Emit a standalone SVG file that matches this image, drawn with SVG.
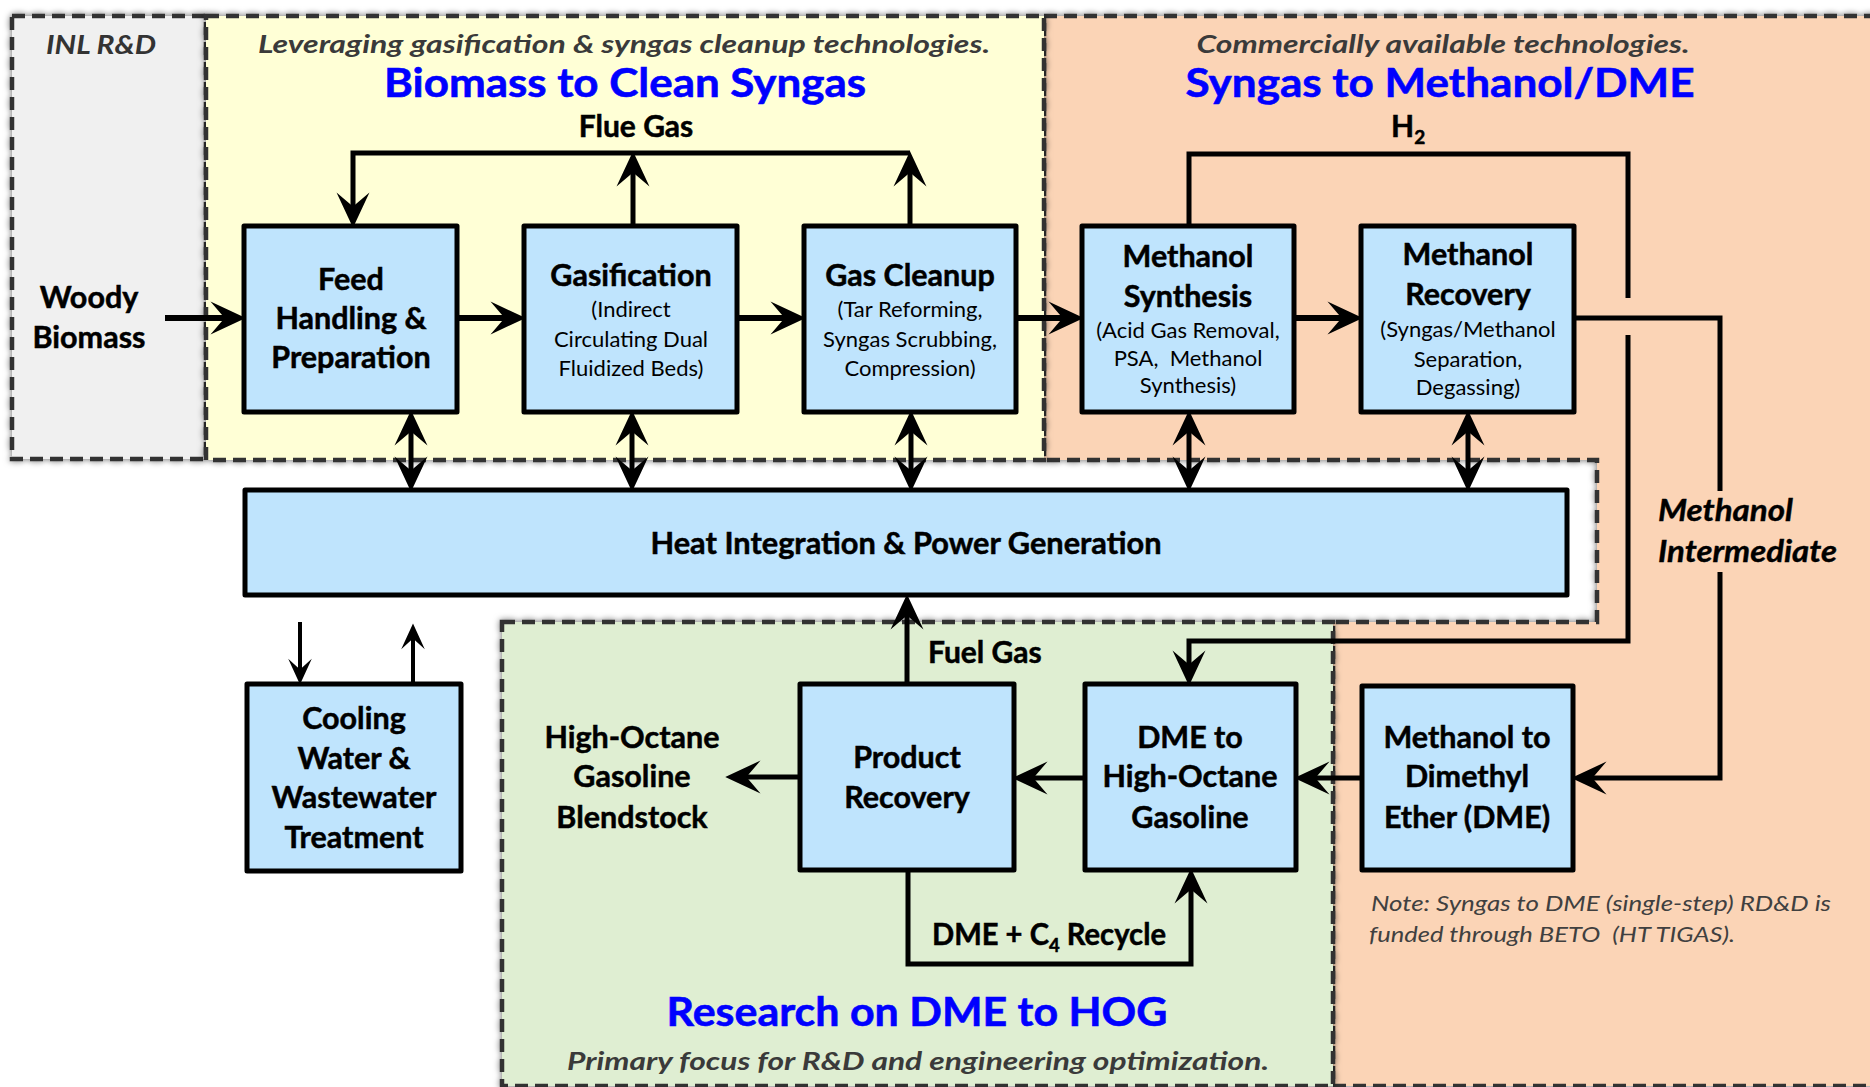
<svg xmlns="http://www.w3.org/2000/svg" width="1870" height="1087" viewBox="0 0 1870 1087">
<defs>
<filter id="sh" x="-5%" y="-5%" width="110%" height="110%">
<feDropShadow dx="0" dy="0" stdDeviation="3" flood-color="#000" flood-opacity="0.55"/>
</filter>
<marker id="ah" markerUnits="userSpaceOnUse" markerWidth="40" markerHeight="40" viewBox="-22 -16 34 32" refX="0" refY="0" orient="auto-start-reverse" overflow="visible">
<path d="M10,0 L-20,-14 L-8,0 L-20,14 Z" fill="#000"/>
</marker>
<marker id="ahs" markerUnits="userSpaceOnUse" markerWidth="30" markerHeight="30" viewBox="-18 -12 28 24" refX="0" refY="0" orient="auto-start-reverse" overflow="visible">
<path d="M8,0 L-16,-11 L-6,0 L-16,11 Z" fill="#000"/>
</marker>
<style>
.reg{stroke:#333;stroke-width:4.5;stroke-dasharray:13 7;filter:url(#sh)}
.box{fill:#BFE4FD;stroke:#000;stroke-width:5;stroke-linejoin:round}
.c{fill:none;stroke:#000;stroke-width:5;stroke-linejoin:miter}
.cm{fill:none;stroke:#000;stroke-width:6}
.cs{fill:none;stroke:#000;stroke-width:4}
.a{marker-end:url(#ah)}
.bi{marker-start:url(#ah);marker-end:url(#ah)}
.as{marker-end:url(#ahs)}
text{font-family:Lato,"Liberation Sans",sans-serif}
.t{font-size:41px;font-weight:bold;fill:#0000FF;text-anchor:middle;stroke:#0000FF;stroke-width:0.6}
.sub{font-size:25px;font-weight:bold;font-style:italic;fill:#3a3a3a;text-anchor:middle}
.n{font-size:30.5px;font-weight:bold;fill:#000;text-anchor:middle;stroke:#000;stroke-width:0.5}
.s{font-size:22px;fill:#000;text-anchor:middle}
.l{font-size:30px;font-weight:bold;fill:#000;stroke:#000;stroke-width:0.5}
.li{font-size:30px;font-weight:bold;font-style:italic;fill:#000;stroke:#000;stroke-width:0.4}
.note{font-size:22px;font-style:italic;fill:#404040}
</style>
</defs>
<rect width="1870" height="1087" fill="#fff"/>
<g id="regions">
<path class="reg" d="M1044,16 L1880,16 L1880,1086 L1333,1086 L1333,622 L1597,622 L1597,460 L1044,460 Z" fill="#FBD4B6"/>
<rect class="reg" x="502" y="622" width="831" height="464" fill="#DFEED2"/>
<rect class="reg" x="12" y="16" width="194" height="443" fill="#F0F0F0"/>
<rect class="reg" x="206" y="16" width="838" height="444" fill="#FFFFD6"/>
</g>
<g id="headings">
<text x="46" y="54" font-size="26" font-weight="bold" font-style="italic" fill="#333" textLength="110" lengthAdjust="spacingAndGlyphs">INL R&amp;D</text>
<text class="sub" x="624" y="53" textLength="732" lengthAdjust="spacingAndGlyphs">Leveraging gasification &amp; syngas cleanup technologies.</text>
<text class="t" x="625" y="97" textLength="482" lengthAdjust="spacingAndGlyphs">Biomass to Clean Syngas</text>
<text class="sub" x="1443" y="53" textLength="493" lengthAdjust="spacingAndGlyphs">Commercially available technologies.</text>
<text class="t" x="1440" y="97" textLength="509" lengthAdjust="spacingAndGlyphs">Syngas to Methanol/DME</text>
<text class="t" x="917" y="1026" textLength="501" lengthAdjust="spacingAndGlyphs">Research on DME to HOG</text>
<text class="sub" x="918" y="1070" textLength="702" lengthAdjust="spacingAndGlyphs">Primary focus for R&amp;D and engineering optimization.</text>
<text class="note" x="1371" y="911" textLength="460" lengthAdjust="spacingAndGlyphs">Note: Syngas to DME (single-step) RD&amp;D is</text>
<text class="note" x="1369" y="942" textLength="366" lengthAdjust="spacingAndGlyphs" xml:space="preserve">funded through BETO  (HT TIGAS).</text>
</g>
<g id="connectors">
<line class="cm a" x1="165" y1="318" x2="234" y2="318"/>
<line class="cm a" x1="457" y1="318" x2="514" y2="318"/>
<line class="cm a" x1="737" y1="318" x2="794" y2="318"/>
<line class="cm a" x1="1016" y1="318" x2="1072" y2="318"/>
<line class="cm a" x1="1294" y1="318" x2="1351" y2="318"/>
<path class="c a" d="M910,153 L353,153 L353,216"/>
<line class="c a" x1="633" y1="226" x2="633" y2="163"/>
<line class="c a" x1="910" y1="226" x2="910" y2="163"/>
<path class="c" d="M1189,226 L1189,154 L1628,154 L1628,298"/>
<path class="c a" d="M1628,335 L1628,641 L1189,641 L1189,674"/>
<path class="c" d="M1574,318 L1720,318 L1720,491"/>
<path class="c a" d="M1720,572 L1720,778 L1583,778"/>
<line class="c a" x1="1362" y1="778" x2="1306" y2="778"/>
<line class="c a" x1="1085" y1="778" x2="1024" y2="778"/>
<line class="c a" x1="800" y1="777" x2="737" y2="777"/>
<line class="c a" x1="907" y1="684" x2="907" y2="606"/>
<path class="c a" d="M908,870 L908,964 L1191,964 L1191,880"/>
<line class="c bi" x1="411" y1="422" x2="411" y2="480"/>
<line class="c bi" x1="632" y1="422" x2="632" y2="480"/>
<line class="c bi" x1="911" y1="422" x2="911" y2="480"/>
<line class="c bi" x1="1189" y1="422" x2="1189" y2="480"/>
<line class="c bi" x1="1468" y1="422" x2="1468" y2="480"/>
<line class="cs as" x1="300" y1="622" x2="300" y2="676"/>
<line class="cs as" x1="413" y1="684" x2="413" y2="632"/>
</g>
<g id="flow-labels">
<text class="l" x="636" y="137" text-anchor="middle">Flue Gas</text>
<text class="l" x="1391" y="137">H<tspan font-size="19" dy="7">2</tspan></text>
<text class="li" x="1658" y="521" textLength="135" lengthAdjust="spacingAndGlyphs">Methanol</text>
<text class="li" x="1658" y="562" textLength="179" lengthAdjust="spacingAndGlyphs">Intermediate</text>
<text class="l" x="928" y="663">Fuel Gas</text>
<text class="l" x="932" y="945" textLength="234" lengthAdjust="spacingAndGlyphs">DME + C<tspan font-size="19" dy="7">4</tspan><tspan dy="-7"> Recycle</tspan></text>
<text class="n" x="89" y="308">Woody</text>
<text class="n" x="89" y="348">Biomass</text>
<text class="n" x="632" y="748">High-Octane</text>
<text class="n" x="632" y="787">Gasoline</text>
<text class="n" x="632" y="828">Blendstock</text>
</g>
<g id="feed">
<rect class="box" x="244" y="226" width="213" height="186"/>
<text class="n" x="351" y="290">Feed</text>
<text class="n" x="351" y="329">Handling &amp;</text>
<text class="n" x="351" y="368">Preparation</text>
</g>
<g id="gasification">
<rect class="box" x="524" y="226" width="213" height="186"/>
<text class="n" x="631" y="286">Gasification</text>
<text class="s" x="631" y="317">(Indirect</text>
<text class="s" x="631" y="347">Circulating Dual</text>
<text class="s" x="631" y="376">Fluidized Beds)</text>
</g>
<g id="gas-cleanup">
<rect class="box" x="804" y="226" width="212" height="186"/>
<text class="n" x="910" y="286">Gas Cleanup</text>
<text class="s" x="910" y="317">(Tar Reforming,</text>
<text class="s" x="910" y="347">Syngas Scrubbing,</text>
<text class="s" x="910" y="376">Compression)</text>
</g>
<g id="methanol-synthesis">
<rect class="box" x="1082" y="226" width="212" height="186"/>
<text class="n" x="1188" y="267">Methanol</text>
<text class="n" x="1188" y="307">Synthesis</text>
<text class="s" x="1188" y="338">(Acid Gas Removal,</text>
<text class="s" x="1188" y="366" xml:space="preserve">PSA,  Methanol</text>
<text class="s" x="1188" y="393">Synthesis)</text>
</g>
<g id="methanol-recovery">
<rect class="box" x="1361" y="226" width="213" height="186"/>
<text class="n" x="1468" y="265">Methanol</text>
<text class="n" x="1468" y="305">Recovery</text>
<text class="s" x="1468" y="337">(Syngas/Methanol</text>
<text class="s" x="1468" y="367">Separation,</text>
<text class="s" x="1468" y="395">Degassing)</text>
</g>
<g id="heat-integration">
<rect class="box" x="245" y="490" width="1322" height="105"/>
<text class="n" x="906" y="554" textLength="511" lengthAdjust="spacingAndGlyphs">Heat Integration &amp; Power Generation</text>
</g>
<g id="cooling">
<rect class="box" x="247" y="684" width="214" height="187"/>
<text class="n" x="354" y="729">Cooling</text>
<text class="n" x="354" y="769">Water &amp;</text>
<text class="n" x="354" y="808">Wastewater</text>
<text class="n" x="354" y="848">Treatment</text>
</g>
<g id="product-recovery">
<rect class="box" x="800" y="684" width="214" height="186"/>
<text class="n" x="907" y="768">Product</text>
<text class="n" x="907" y="808">Recovery</text>
</g>
<g id="dme-to-hog">
<rect class="box" x="1085" y="684" width="211" height="186"/>
<text class="n" x="1190" y="748">DME to</text>
<text class="n" x="1190" y="787">High-Octane</text>
<text class="n" x="1190" y="828">Gasoline</text>
</g>
<g id="methanol-to-dme">
<rect class="box" x="1362" y="686" width="211" height="184"/>
<text class="n" x="1467" y="748">Methanol to</text>
<text class="n" x="1467" y="787">Dimethyl</text>
<text class="n" x="1467" y="828">Ether (DME)</text>
</g>
</svg>
